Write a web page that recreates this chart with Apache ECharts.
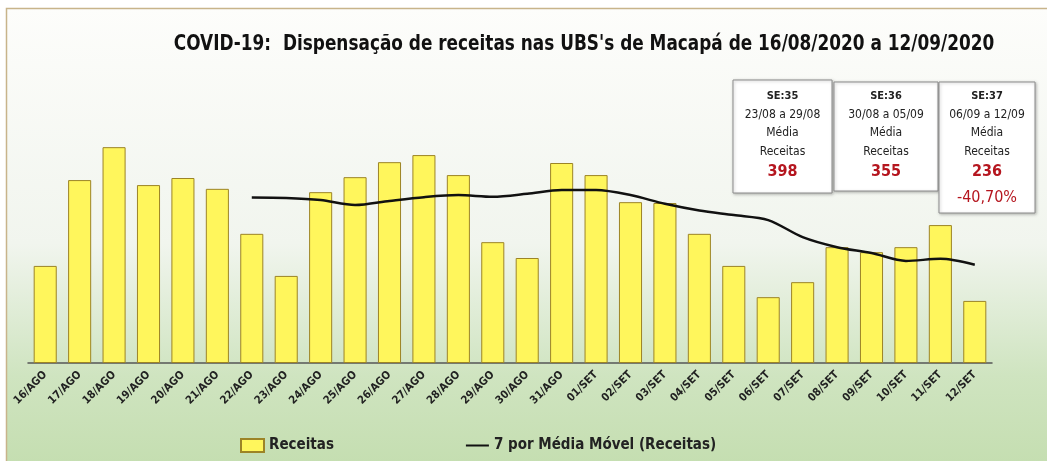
<!DOCTYPE html>
<html>
<head>
<meta charset="utf-8">
<script src="https://cdn.jsdelivr.net/npm/echarts@6/dist/echarts.min.js"></script>
<style>
  html, body { margin: 0; padding: 0; background: #fff; }
  #chart { width: 1047px; height: 461px; }
</style>
</head>
<body>
<div id="chart"></div>
<script>
// dias (16/08 a 12/09)
const dias = ['16/AGO', '17/AGO', '18/AGO', '19/AGO', '20/AGO', '21/AGO', '22/AGO', '23/AGO', '24/AGO', '25/AGO',
  '26/AGO', '27/AGO', '28/AGO', '29/AGO', '30/AGO', '31/AGO', '01/SET', '02/SET', '03/SET', '04/SET',
  '05/SET', '06/SET', '07/SET', '08/SET', '09/SET', '10/SET', '11/SET', '12/SET'];
// receitas dispensadas por dia
const receitas = [233, 439, 518, 427, 444, 418, 310, 209, 410, 446,
  482, 499, 451, 290, 252, 480, 451, 386, 384, 310,
  233, 158, 194, 278, 266, 278, 331, 149];
// média móvel de 7 dias
const mediaMovel = ['-', '-', '-', '-', '-', '-', 397, 396, 391, 379,
  389, 398, 403, 399, 406, 415, 415, 403, 382, 366,
  355, 343, 302, 278, 264, 245, 250, 236];
// caixas das semanas epidemiológicas
const semanas = ['SE:35', 'SE:36', 'SE:37'];
const periodos = ['23/08 a 29/08', '30/08 a 05/09', '06/09 a 12/09'];
const mediasSemana = ['398', '355', '236'];
const variacao = '-40,70%';

const font = 'DejaVu Sans Condensed, Liberation Sans, sans-serif';
const chart = echarts.init(document.getElementById('chart'));

// caixas (posição em pixels)
const boxes = [
  { x: 733, y: 80, w: 99, h: 113 },
  { x: 834, y: 82, w: 104, h: 109 },
  { x: 939, y: 82, w: 96, h: 131 }
];
const boxGraphics = [];
boxes.forEach((b, i) => {
  const cx = b.x + b.w / 2;
  boxGraphics.push({
    type: 'rect', z: 100,
    shape: { x: b.x, y: b.y, width: b.w, height: b.h },
    style: { fill: '#fff', stroke: '#8c8c8c', lineWidth: 1, shadowBlur: 3, shadowColor: 'rgba(0,0,0,0.25)', shadowOffsetX: 1, shadowOffsetY: 1 }
  });
  const linhas = [
    { t: semanas[i], y: 96, s: 11, c: '#222', w: 'bold' },
    { t: periodos[i], y: 115, s: 12, c: '#222', w: 'normal' },
    { t: 'Média', y: 133, s: 12, c: '#222', w: 'normal' },
    { t: 'Receitas', y: 152, s: 12, c: '#222', w: 'normal' },
    { t: mediasSemana[i], y: 172, s: 16, c: '#b5161f', w: 'bold' }
  ];
  if (i === 2) linhas.push({ t: variacao, y: 198, s: 16, c: '#b5161f', w: 'normal' });
  linhas.forEach(l => {
    boxGraphics.push({
      type: 'text', z: 101, x: cx, y: l.y,
      style: { text: l.t, fill: l.c, font: l.w + ' ' + l.s + 'px ' + font, textAlign: 'center', textVerticalAlign: 'middle' }
    });
  });
});

const option = {
  animation: false,
  graphic: [
    {
      type: 'rect', z: -10, silent: true,
      shape: { x: 6.5, y: 8.5, width: 1060, height: 470 },
      style: {
        stroke: '#c8b48a', lineWidth: 1.5,
        fill: new echarts.graphic.LinearGradient(0, 0, 0, 1, [
          { offset: 0, color: '#fdfdfb' },
          { offset: 0.5, color: '#f1f5ee' },
          { offset: 0.78, color: '#cfe4c0' },
          { offset: 1, color: '#c3ddae' }
        ])
      }
    },
    // título (fonte estreita -> escala horizontal)
    {
      type: 'text', z: 50, x: 584, y: 45, scaleX: 0.895,
      style: {
        text: "COVID-19:  Dispensação de receitas nas UBS's de Macapá de 16/08/2020 a 12/09/2020",
        fill: '#111', font: 'bold 21px ' + font, textAlign: 'center', textVerticalAlign: 'middle'
      }
    },
    ...boxGraphics
  ],
  legend: {
    left: 235, top: 433, itemGap: 131, itemWidth: 23, itemHeight: 13,
    textStyle: { fontFamily: font, fontSize: 15, fontWeight: 'bold', color: '#222' },
    data: [
      { name: 'Receitas', icon: 'rect' },
      { name: '7 por Média Móvel (Receitas)', itemStyle: { color: 'rgba(0,0,0,0)', borderWidth: 0 } }
    ]
  },
  grid: { left: 28, right: 55, top: 113, bottom: 98 },
  xAxis: {
    type: 'category', data: dias,
    axisLine: { lineStyle: { color: '#555', width: 1.5 } },
    axisTick: { lineStyle: { color: '#555' }, length: 4 },
    axisLabel: { rotate: 45, interval: 0, margin: 10, fontFamily: font, fontSize: 11, fontWeight: 'bold', color: '#222' }
  },
  yAxis: { type: 'value', min: 0, max: 600, show: false, splitLine: { show: false } },
  series: [
    {
      name: 'Receitas', type: 'bar', data: receitas, barWidth: '67%',
      itemStyle: { color: '#fff65c', borderColor: '#9c8426', borderWidth: 1 }
    },
    {
      name: '7 por Média Móvel (Receitas)', type: 'line', data: mediaMovel, smooth: 0.3,
      symbol: 'none', itemStyle: { color: '#111' }, lineStyle: { color: '#111', width: 2.5 }, z: 5
    }
  ]
};
chart.setOption(option);
</script>
</body>
</html>
